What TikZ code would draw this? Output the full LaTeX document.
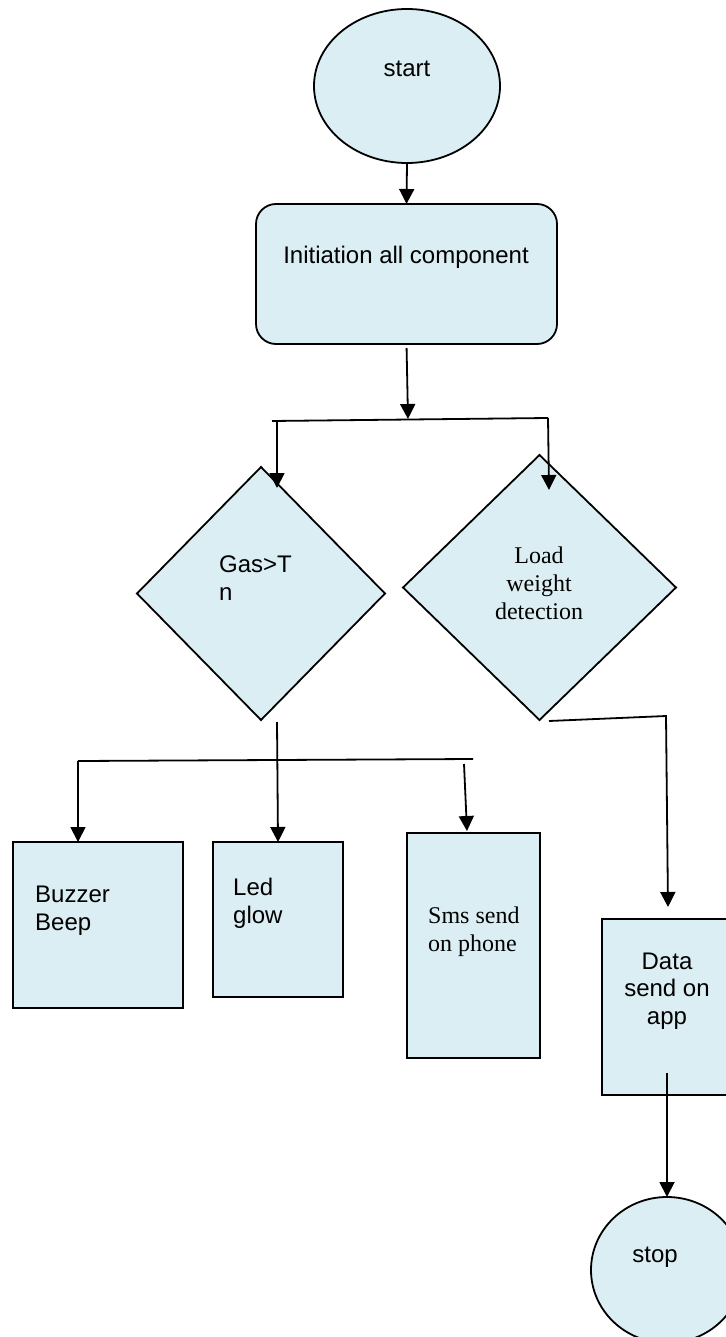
\documentclass[tikz,border=0pt]{standalone}
\usepackage{fontspec}
\setmainfont{Liberation Sans}
\newfontfamily\serifface{Liberation Serif}
\usetikzlibrary{shapes.geometric,arrows.meta}
\definecolor{boxfill}{RGB}{219,238,243}

\begin{document}
\begin{tikzpicture}[x=1pt,y=-1pt,
  shapeline/.style={draw=black,line width=1.8pt,fill=boxfill,inner sep=0pt,outer sep=0pt},
  ov/.style={shapeline,ellipse},
  rbox/.style={shapeline,rectangle},
  dia/.style={shapeline,diamond},
  conn/.style={line width=1.8pt},
  arr/.style={conn,-{Triangle[width=15pt,length=15pt]}},
  lbl/.style={font=\fontsize{24}{27.5}\selectfont,inner sep=0pt,align=left},
  slbl/.style={lbl,font=\serifface\fontsize{24}{27.8}\selectfont},
]
\useasboundingbox (0,0) rectangle (725,1337);

% shapes
\node[ov,minimum width=186pt,minimum height=154pt] (start) at (407,86) {};
\node[rbox,rounded corners=20pt,minimum width=301pt,minimum height=140pt] (init) at (406.5,274) {};
\node[dia,minimum width=248pt,minimum height=253pt] (gas) at (261,593.5) {};
\node[dia,minimum width=273pt,minimum height=265pt] (load) at (539.5,587.5) {};
\node[rbox,minimum width=170pt,minimum height=166pt] (buzzer) at (98,925) {};
\node[rbox,minimum width=130pt,minimum height=155pt] (led) at (278,919.5) {};
\node[rbox,minimum width=133pt,minimum height=225pt] (sms) at (473.5,945.5) {};
\node[rbox,minimum width=128pt,minimum height=176pt] (data) at (666,1007) {};
\node[ov,minimum width=152pt,minimum height=146pt] (stop) at (667,1270) {};

% labels (the base anchor of a multi-line label sits on its last line)
\node[lbl,anchor=base] (starttxt) at (407,77) {start};
\node[lbl,anchor=base] (inittxt) at (406,264) {Initiation all component};
\node[lbl,anchor=base west] (gastxt) at (219,600) {Gas>T\\n};
\node[slbl,anchor=base,align=center] (loadtxt) at (539,619) {Load\\weight\\detection};
\node[lbl,anchor=base west] (buzzertxt) at (35,930) {Buzzer\\Beep};
\node[lbl,anchor=base west] (ledtxt) at (233,923) {Led\\glow};
\node[slbl,anchor=base west] (smstxt) at (428,951) {Sms send\\on phone};
\node[lbl,anchor=base,align=center] (datatxt) at (667,1024) {Data\\send on\\app};
\node[lbl,anchor=base] (stoptxt) at (655,1262) {stop};

% junction points
\coordinate (fork) at (408,419);
\coordinate (forkL) at (272,421);
\coordinate (forkR) at (548,418);
\coordinate (gasin) at (277,421);
\coordinate (gasentry) at (277,488);
\coordinate (loadentry) at (549,490);
\coordinate (gasout) at (277,722);
\coordinate (barL) at (78,761);
\coordinate (barR) at (473,759);
\coordinate (smsdrop) at (464,764);
\coordinate (smsentry) at (467,831);
\coordinate (loadout) at (549,721);
\coordinate (bend) at (666,716);
\coordinate (dataentry) at (668,907);
\coordinate (dataout) at (667,1073);

% connectors
\draw[arr] (start.south) -- (init.north);
\draw[arr,shorten <=4pt] (init.south) -- (fork);
\draw[conn] (forkL) -- (forkR);
\draw[arr] (gasin) -- (gasentry);
\draw[arr] (forkR) -- (loadentry);
\draw[arr] (gasout) -- (led.north);
\draw[conn] (barL) -- (barR);
\draw[arr] (barL) -- (barL |- buzzer.north);
\draw[arr] (smsdrop) -- (smsentry);
\draw[arr] (loadout) -- (bend) -- (dataentry);
\draw[arr] (dataout) -- (stop.north);
\end{tikzpicture}
\end{document}
